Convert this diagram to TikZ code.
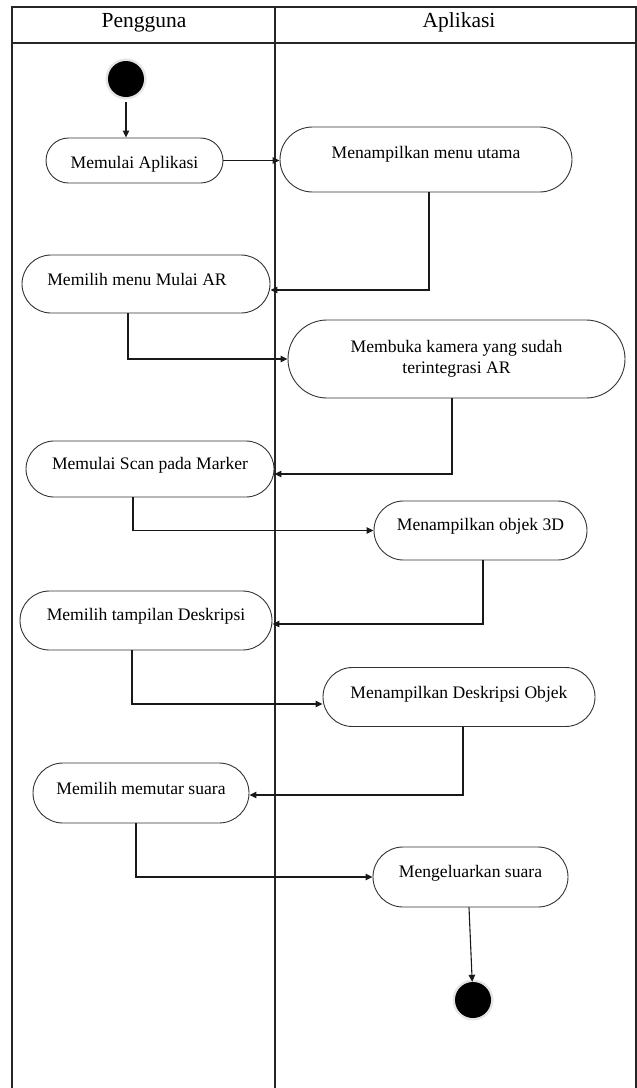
\documentclass[tikz,border=0pt]{standalone}
\usepackage{fontspec}
\setmainfont{Liberation Serif}
\usetikzlibrary{arrows.meta}
\begin{document}
\begin{tikzpicture}[x=1pt,y=-1pt,
  lane/.style={line width=1.2pt, draw=black!85},
  act/.style={draw=black!80, line width=0.9pt, rounded corners=#1, inner sep=0pt,
    font=\fontsize{17.6}{21}\selectfont},
  lbl/.style={text height=20pt, text depth=#1},
  flow/.style={line width=1.1pt, draw=black!90, -{Triangle[length=7pt,width=6.5pt]}},
  dot/.style={circle, fill=black, minimum size=36pt, inner sep=0pt,
    preaction={draw=black!10, line width=5pt}},
  hdr/.style={font=\fontsize{21.5}{24}\selectfont, anchor=base}]
\useasboundingbox (0,0) rectangle (637,1088);
% swimlane frame
\draw[lane] (12,1088) -- (12,7) -- (636,7) -- (636,1088);
\draw[lane] (12,43) -- (636,43);
\draw[lane] (275,7) -- (275,1088);
\node[hdr] (hp) at (144,27.5) {Pengguna};
\node[hdr] (ha) at (459,27.5) {Aplikasi};
% start / end
\node[dot] (start) at (126,79) {};
\node[dot] (end) at (473,1000) {};
% activities
\node[act=22.5pt, lbl=4.4pt, minimum width=177pt, minimum height=45pt] (b1) at (134.5,160.5) {Memulai Aplikasi};
\node[act=32.5pt, lbl=22pt, minimum width=292pt, minimum height=65pt] (b2) at (426,159.5) {Menampilkan menu utama};
\node[act=29pt, lbl=16.4pt, minimum width=248pt, minimum height=58pt] (b3) at (146,284) {Memilih menu Mulai AR\hspace*{18pt}};
\node[act=39pt, align=center, minimum width=337pt, minimum height=78pt] (b4) at (456.5,359) {Membuka kamera yang sudah\\terintegrasi AR};
\node[act=28pt, lbl=18.4pt, minimum width=248pt, minimum height=56pt] (b5) at (150,469) {Memulai Scan pada Marker};
\node[act=29.5pt, lbl=19.4pt, minimum width=213pt, minimum height=59pt] (b6) at (480.5,530.5) {Menampilkan objek 3D};
\node[act=29.5pt, lbl=19.4pt, minimum width=252pt, minimum height=59pt] (b7) at (146,620.5) {Memilih tampilan Deskripsi};
\node[act=29.5pt, lbl=17pt, minimum width=272pt, minimum height=59pt] (b8) at (459,697) {Menampilkan Deskripsi Objek};
\node[act=30pt, lbl=16.4pt, minimum width=216pt, minimum height=60pt] (b9) at (141,793) {Memilih memutar suara};
\node[act=30pt, lbl=18.4pt, minimum width=195pt, minimum height=60pt] (b10) at (470.5,877) {Mengeluarkan suara};
% connectors
\draw[flow] ([yshift=-5pt]start.south) -- (start.south |- b1.north);
\draw[flow] (b1.east) -- (b1.east -| b2.west);
\draw[flow] ([xshift=3pt]b2.south) |- ([yshift=-6pt]b3.east);
\draw[flow] ([xshift=-18pt]b3.south) |- (b4.west);
\draw[flow] ([xshift=-4.5pt]b4.south) |- ([yshift=-5pt]b5.east);
\draw[flow] ([xshift=-17pt]b5.south) |- (b6.west);
\draw[flow] ([xshift=2.5pt]b6.south) |- ([yshift=-3.5pt]b7.east);
\draw[flow] ([xshift=-14pt]b7.south) |- ([yshift=-7pt]b8.west);
\draw[flow] ([xshift=4pt]b8.south) |- ([yshift=-2pt]b9.east);
\draw[flow] ([xshift=-5pt]b9.south) |- (b10.west);
\draw[flow] ([xshift=-1.5pt]b10.south) -- (end);
\end{tikzpicture}
\end{document}
